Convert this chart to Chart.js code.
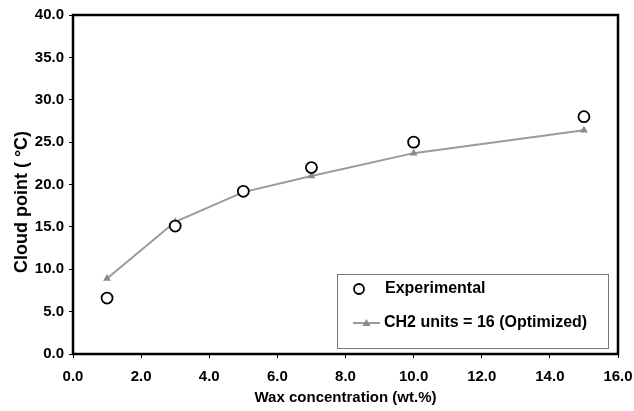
<!DOCTYPE html>
<html>
<head>
<meta charset="utf-8">
<script src="https://cdn.jsdelivr.net/npm/chart.js@4.4.1/dist/chart.umd.min.js"></script>
<style>
    html, body { margin: 0; padding: 0; background: #fff; }
    #wrap { width: 634px; height: 411px; }
</style>
</head>
<body>
<div id="wrap"><canvas id="chart" width="634" height="411"></canvas></div>
<script>
// Wax concentration (wt.%) of each sample
const waxConc = [1, 3, 5, 7, 10, 15];
// Measured cloud points
const experimental = [6.6, 15.1, 19.2, 22.0, 25.0, 28.0];
// Model with CH2 units = 16
const optimized = [8.9, 15.6, 19.1, 21.0, 23.7, 26.4];

const seriesNames = ["Experimental", "CH2 units = 16 (Optimized)"];
const fontFamily = "'Liberation Sans', Arial, sans-serif";

const toPoints = ys => waxConc.map((x, i) => ({ x: x, y: ys[i] }));

// Frame round the plot area + legend box in the lower right corner
const framePlugin = {
    id: 'frame',
    afterDraw(chart) {
        const ctx = chart.ctx;
        const area = chart.chartArea;
        ctx.save();
        ctx.strokeStyle = '#000';
        ctx.lineWidth = 2.5;
        ctx.strokeRect(area.left, area.top, area.right - area.left, area.bottom - area.top);

        // legend box
        const boxRight = area.right - 10;
        const boxBottom = area.bottom - 6;
        const boxW = 271, boxH = 74;
        const bx = boxRight - boxW, by = boxBottom - boxH;
        ctx.fillStyle = '#fff';
        ctx.fillRect(bx, by, boxW, boxH);
        ctx.strokeStyle = '#777';
        ctx.lineWidth = 1;
        ctx.strokeRect(bx + 0.5, by + 0.5, boxW, boxH);

        const ds = chart.data.datasets;
        ctx.font = 'bold 16px ' + fontFamily;
        ctx.textBaseline = 'middle';
        ctx.fillStyle = '#000';

        // entry 1: circle
        const y1 = by + 15;
        ctx.beginPath();
        ctx.arc(bx + 22, y1, 5, 0, Math.PI * 2);
        ctx.fillStyle = ds[0].pointBackgroundColor;
        ctx.fill();
        ctx.strokeStyle = ds[0].pointBorderColor;
        ctx.lineWidth = ds[0].pointBorderWidth;
        ctx.stroke();
        ctx.fillStyle = '#000';
        ctx.fillText(ds[0].label, bx + 48, y1);

        // entry 2: line with triangle
        const y2 = by + 49;
        ctx.beginPath();
        ctx.moveTo(bx + 16, y2);
        ctx.lineTo(bx + 43, y2);
        ctx.strokeStyle = ds[1].borderColor;
        ctx.lineWidth = ds[1].borderWidth;
        ctx.stroke();
        ctx.beginPath();
        ctx.moveTo(bx + 29.5, y2 - 4);
        ctx.lineTo(bx + 33.5, y2 + 3);
        ctx.lineTo(bx + 25.5, y2 + 3);
        ctx.closePath();
        ctx.fillStyle = ds[1].pointBackgroundColor;
        ctx.fill();
        ctx.fillStyle = '#000';
        ctx.fillText(ds[1].label, bx + 47, y2);
        ctx.restore();
    }
};

const ctx = document.getElementById('chart').getContext('2d');
new Chart(ctx, {
    type: 'scatter',
    data: {
        datasets: [
            {
                label: seriesNames[0],
                data: toPoints(experimental),
                showLine: false,
                pointStyle: 'circle',
                pointRadius: 5.5,
                pointBackgroundColor: '#fff',
                pointBorderColor: '#000',
                pointBorderWidth: 1.8,
                order: 0
            },
            {
                label: seriesNames[1],
                data: toPoints(optimized),
                showLine: true,
                borderColor: '#9a9a9a',
                borderWidth: 2,
                pointStyle: 'triangle',
                pointRadius: 4.5,
                pointBackgroundColor: '#8a8a8a',
                pointBorderColor: '#8a8a8a',
                pointBorderWidth: 0,
                order: 1
            }
        ]
    },
    options: {
        responsive: false,
        animation: false,
        devicePixelRatio: 1,
        layout: { padding: { top: 15, right: 16, left: 0, bottom: 0 } },
        plugins: {
            legend: { display: false },
            tooltip: { enabled: false }
        },
        scales: {
            x: {
                type: 'linear',
                min: 0,
                max: 16,
                ticks: {
                    stepSize: 2,
                    padding: 10,
                    color: '#000',
                    font: { family: fontFamily, size: 15, weight: 'bold' },
                    callback: v => v.toFixed(1)
                },
                grid: { drawOnChartArea: false, drawTicks: true, tickLength: 4, color: '#000', lineWidth: 1 },
                border: { display: false },
                title: {
                    display: true,
                    text: 'Wax concentration (wt.%)',
                    color: '#000',
                    font: { family: fontFamily, size: 15, weight: 'bold' },
                    padding: { top: 0, bottom: 4 }
                },
                afterFit: scale => {
                    scale.height = 57;
                    // let the "16.0" label hang into the right margin
                    scale.paddingRight = 0;
                    scale.paddingLeft = 0;
                }
            },
            y: {
                type: 'linear',
                min: 0,
                max: 40,
                ticks: {
                    stepSize: 5,
                    padding: 5,
                    color: '#000',
                    font: { family: fontFamily, size: 15, weight: 'bold' },
                    callback: v => v.toFixed(1)
                },
                grid: { drawOnChartArea: false, drawTicks: true, tickLength: 4, color: '#000', lineWidth: 1 },
                border: { display: false },
                title: {
                    display: true,
                    // trailing spaces push the visible text a bit lower, as in the original
                    text: 'Cloud point ( °C)       ',
                    color: '#000',
                    font: { family: fontFamily, size: 18, weight: 'bold' },
                    padding: { top: 11, bottom: 0 }
                },
                afterFit: scale => {
                    scale.width = 73;
                    scale.paddingTop = 0;
                    scale.paddingBottom = 0;
                }
            }
        }
    },
    plugins: [framePlugin]
});
</script>
</body>
</html>
